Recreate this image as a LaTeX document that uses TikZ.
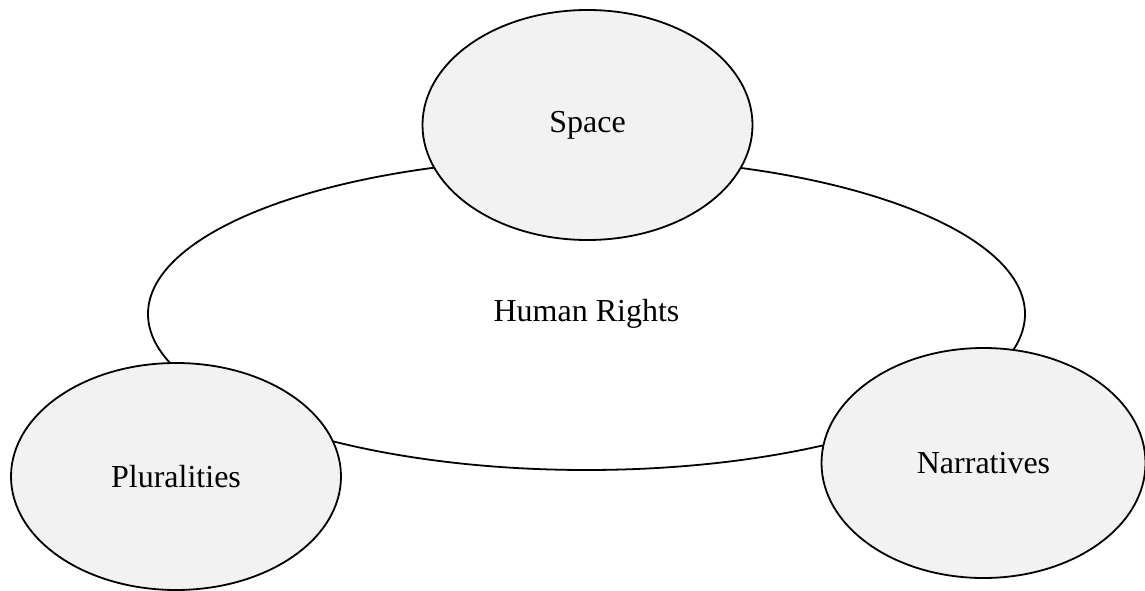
\documentclass[tikz,border=0pt]{standalone}
\usepackage{fontspec}
\setmainfont{Liberation Serif}
\usetikzlibrary{shapes.geometric}

\begin{document}
\begin{tikzpicture}[
  x=1pt, y=-1pt,
  blob/.style={draw, ellipse, line width=1.8pt, inner sep=0pt,
    font=\fontsize{32}{38}\selectfont},
  small/.style={blob, fill=gray!10, minimum width=330pt, minimum height=230pt}
]
\useasboundingbox (0,0) rectangle (1145,591);
\node[blob, fill=white, minimum width=877pt, minimum height=312pt]
  (rights) at (586.5,314) {Human Rights};
\node[small] (space) at (587.5,125) {Space};
\node[small, minimum height=227pt] (plural) at (176,476.5) {Pluralities};
\node[small, minimum width=324pt] (narr) at (983.5,463) {Narratives};
\end{tikzpicture}
\end{document}
